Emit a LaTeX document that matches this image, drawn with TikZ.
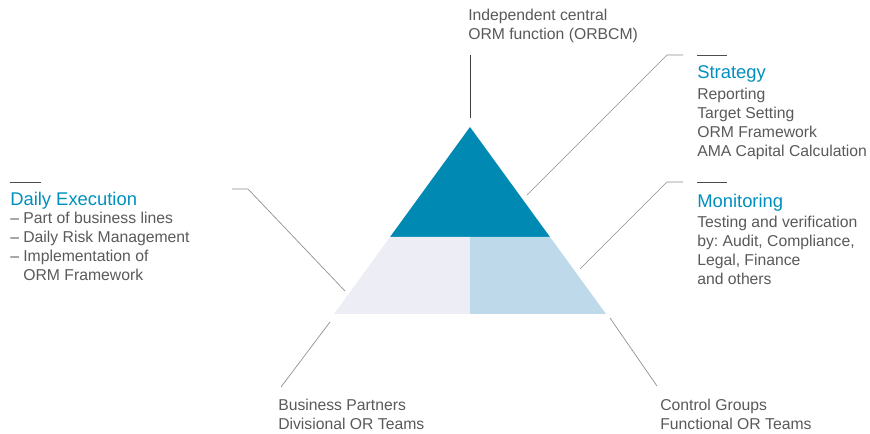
\documentclass[tikz,border=0pt]{standalone}
\usepackage{fontspec}
\setmainfont{Liberation Sans}
\frenchspacing
\definecolor{topblue}{RGB}{0,138,179}
\definecolor{leftgrey}{RGB}{236,237,245}
\definecolor{rightblue}{RGB}{190,217,234}
\definecolor{headblue}{RGB}{0,143,190}
\definecolor{textgrey}{RGB}{89,89,89}
\begin{document}
\begin{tikzpicture}[
        x=0.75pt, y=-0.75pt,
        head/.style={anchor=base west, inner sep=0pt, font=\fontsize{13.8}{16}\selectfont, text=headblue},
        body/.style={anchor=north west, inner sep=0pt, align=left, font=\fontsize{11.8}{14.25}\selectfont, text=textgrey},
        leader/.style={draw, line width=0.5pt, black!45},
        top leader/.style={draw, line width=0.7pt, black!75},
        bar/.style={draw, line width=0.7pt, black!70}
    ]
	\useasboundingbox (0,0) rectangle (870,434);
	% pyramid
	\coordinate (apex) at (470,127);
	\coordinate (mid_l) at (390,237);
	\coordinate (mid_c) at (470,237);
	\coordinate (mid_r) at (550,237);
	\coordinate (base_l) at (334,314);
	\coordinate (base_c) at (470,314);
	\coordinate (base_r) at (606,314);
	\fill[topblue] (apex) -- (mid_r) -- (mid_l) -- cycle;
	\fill[leftgrey] (mid_l) -- (mid_c) -- (base_c) -- (base_l) -- cycle;
	\fill[rightblue] (mid_c) -- (mid_r) -- (base_r) -- (base_c) -- cycle;

	% texts
	\node[body] (top_lbl) at (468,9) {Independent central\\ORM function (ORBCM)};
	\node[head] (strat_head) at (697,79) {Strategy};
	\node[body] (strat_body) at (697,88) {Reporting\\Target Setting\\ORM Framework\\AMA Capital Calculation};
	\node[head] (mon_head) at (697,208) {Monitoring};
	\node[body] (mon_body) at (697,216) {Testing and verification\\by: Audit, Compliance,\\Legal, Finance\\and others};
	\node[head] (daily_head) at (10,206) {Daily Execution};
	\node[body] (daily_body) at (10,212) {-- Part of business lines\\-- Daily Risk Management\\-- Implementation of\\\phantom{-- }ORM Framework};
	\node[body] (bp_lbl) at (278,399) {Business Partners\\Divisional OR Teams};
	\node[body] (cg_lbl) at (660,399) {Control Groups\\Functional OR Teams};

	% bars over headings
	\draw[bar] (697,55) -- (727,55);
	\draw[bar] (697,182) -- (727,182);
	\draw[bar] (10,182) -- (41,182);

	% leaders
	\coordinate (top_a) at (470,55);
	\coordinate (top_b) at (470,118);
	\coordinate (strat_in) at (527,195);
	\coordinate (strat_knee) at (667,55);
	\coordinate (strat_out) at (683,55);
	\coordinate (mon_in) at (580,269);
	\coordinate (mon_knee) at (667,182);
	\coordinate (mon_out) at (683,182);
	\coordinate (daily_in) at (345,291);
	\coordinate (daily_knee) at (248,189);
	\coordinate (daily_out) at (232,189);
	\coordinate (bp_in) at (330,322);
	\coordinate (bp_out) at (281,387);
	\coordinate (cg_in) at (610,318);
	\coordinate (cg_out) at (657,386);
	\draw[top leader] (top_a) -- (top_b);
	\draw[leader] (strat_in) -- (strat_knee) -- (strat_out);
	\draw[leader] (mon_in) -- (mon_knee) -- (mon_out);
	\draw[leader] (daily_in) -- (daily_knee) -- (daily_out);
	\draw[leader] (bp_in) -- (bp_out);
	\draw[leader] (cg_in) -- (cg_out);
\end{tikzpicture}
\end{document}
